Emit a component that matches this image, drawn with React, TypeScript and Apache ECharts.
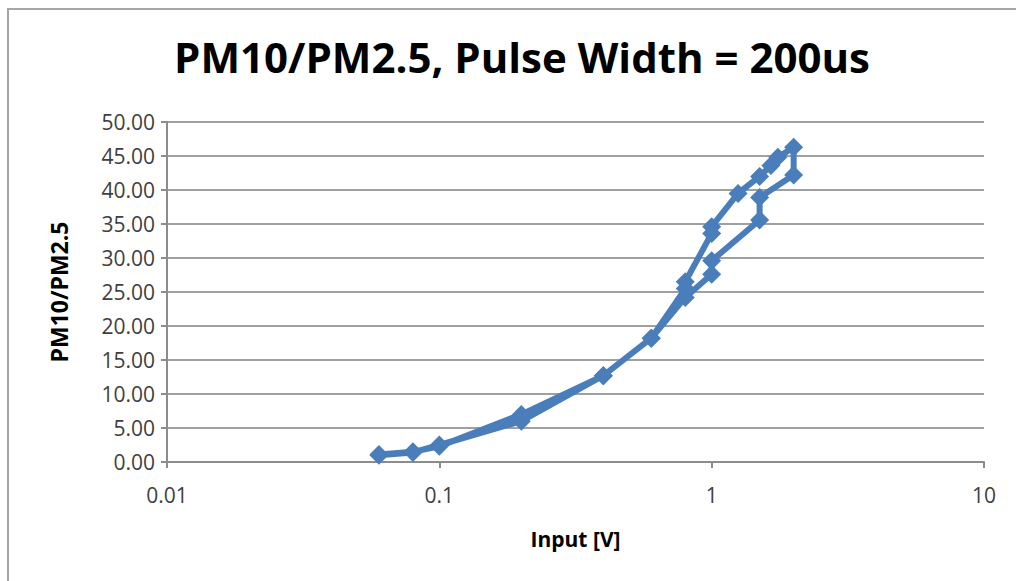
import React, { useEffect, useRef } from "react";
import * as echarts from "echarts";

// Input voltage sweep (V) and measured PM10/PM2.5 ratio, in acquisition order
const inputVolts = [
  0.06, 0.08, 0.1, 0.2, 0.4, 0.6, 0.8, 1.0, 1.0, 1.5, 1.5, 2.0, 2.0,
  1.75, 1.65, 1.5, 1.25, 1.0, 1.0, 0.8, 0.8, 0.6, 0.4, 0.2, 0.1, 0.08, 0.06,
];
const ratio = [
  1.0, 1.4, 2.5, 6.0, 12.7, 18.2, 24.2, 27.6, 29.6, 35.6, 38.9, 42.2, 46.3,
  44.8, 43.6, 42.0, 39.5, 34.6, 33.6, 26.5, 25.5, 18.2, 12.7, 7.0, 2.3, 1.5, 1.1,
];

const xTicks = [0.01, 0.1, 1, 10];
const yMin = 0;
const yMax = 50;
const yStep = 5;

const TITLE = "PM10/PM2.5, Pulse Width = 200us";
const X_NAME = "Input [V]";
const Y_NAME = "PM10/PM2.5";

const FONT = "'Open Sans', 'Liberation Sans', sans-serif";
const BLUE = "#4a7ebb";

export default function App() {
  const ref = useRef<HTMLDivElement>(null);

  useEffect(() => {
    if (!ref.current) return;
    const chart = echarts.init(ref.current, undefined, { renderer: "svg" });
    const points = inputVolts.map((x, i) => [x, ratio[i]]);

    chart.setOption({
      animation: false,
      backgroundColor: "#ffffff",
      textStyle: { fontFamily: FONT },
      title: {
        text: TITLE,
        left: 517,
        top: 30,
        textAlign: "center",
        textStyle: {
          fontFamily: FONT,
          fontWeight: "bold",
          fontSize: 42,
          color: "#000000",
        },
      },
      graphic: [
        {
          type: "rect",
          shape: { x: 8, y: 9, width: 1040, height: 620 },
          style: { fill: "none", stroke: "#a6a6a6", lineWidth: 2 },
          silent: true,
          z: -1,
        },
      ],
      grid: { left: 167, right: 32, top: 122, bottom: 119 },
      xAxis: {
        type: "log",
        logBase: 10,
        min: xTicks[0],
        max: xTicks[xTicks.length - 1],
        name: X_NAME,
        nameLocation: "middle",
        nameGap: 66,
        nameTextStyle: {
          fontFamily: FONT,
          fontWeight: "bold",
          fontSize: 21,
          color: "#000000",
        },
        axisLine: { show: true, lineStyle: { color: "#8c8c8c", width: 2 } },
        axisTick: { show: true, inside: false, length: 6, lineStyle: { color: "#8c8c8c", width: 2 } },
        minorTick: { show: false },
        splitLine: { show: false },
        axisLabel: {
          fontFamily: FONT,
          fontSize: 21,
          color: "#404040",
          margin: 22,
          formatter: (v: number) => (v >= 1 ? String(Math.round(v)) : String(Number(v.toPrecision(1)))),
        },
      },
      yAxis: {
        type: "value",
        min: yMin,
        max: yMax,
        interval: yStep,
        name: Y_NAME,
        nameLocation: "middle",
        nameGap: 97,
        nameTextStyle: {
          fontFamily: FONT,
          fontWeight: "bold",
          fontSize: 23,
          color: "#000000",
        },
        axisLine: { show: true, lineStyle: { color: "#8c8c8c", width: 2 } },
        axisTick: { show: true, inside: false, length: 6, lineStyle: { color: "#8c8c8c", width: 2 } },
        splitLine: { show: true, lineStyle: { color: "#a0a0a0", width: 2 } },
        axisLabel: {
          fontFamily: FONT,
          fontSize: 21,
          color: "#404040",
          margin: 12,
          formatter: (v: number) => v.toFixed(2),
        },
      },
      series: [
        {
          type: "line",
          data: points,
          symbol: "diamond",
          symbolSize: 19,
          showSymbol: true,
          itemStyle: { color: BLUE },
          lineStyle: { color: BLUE, width: 6 },
          z: 3,
        },
      ],
    });

    return () => chart.dispose();
  }, []);

  return (
    <div
      ref={ref}
      style={{ position: "fixed", left: 0, top: 0, width: 1016, height: 581, background: "#fff" }}
    />
  );
}
